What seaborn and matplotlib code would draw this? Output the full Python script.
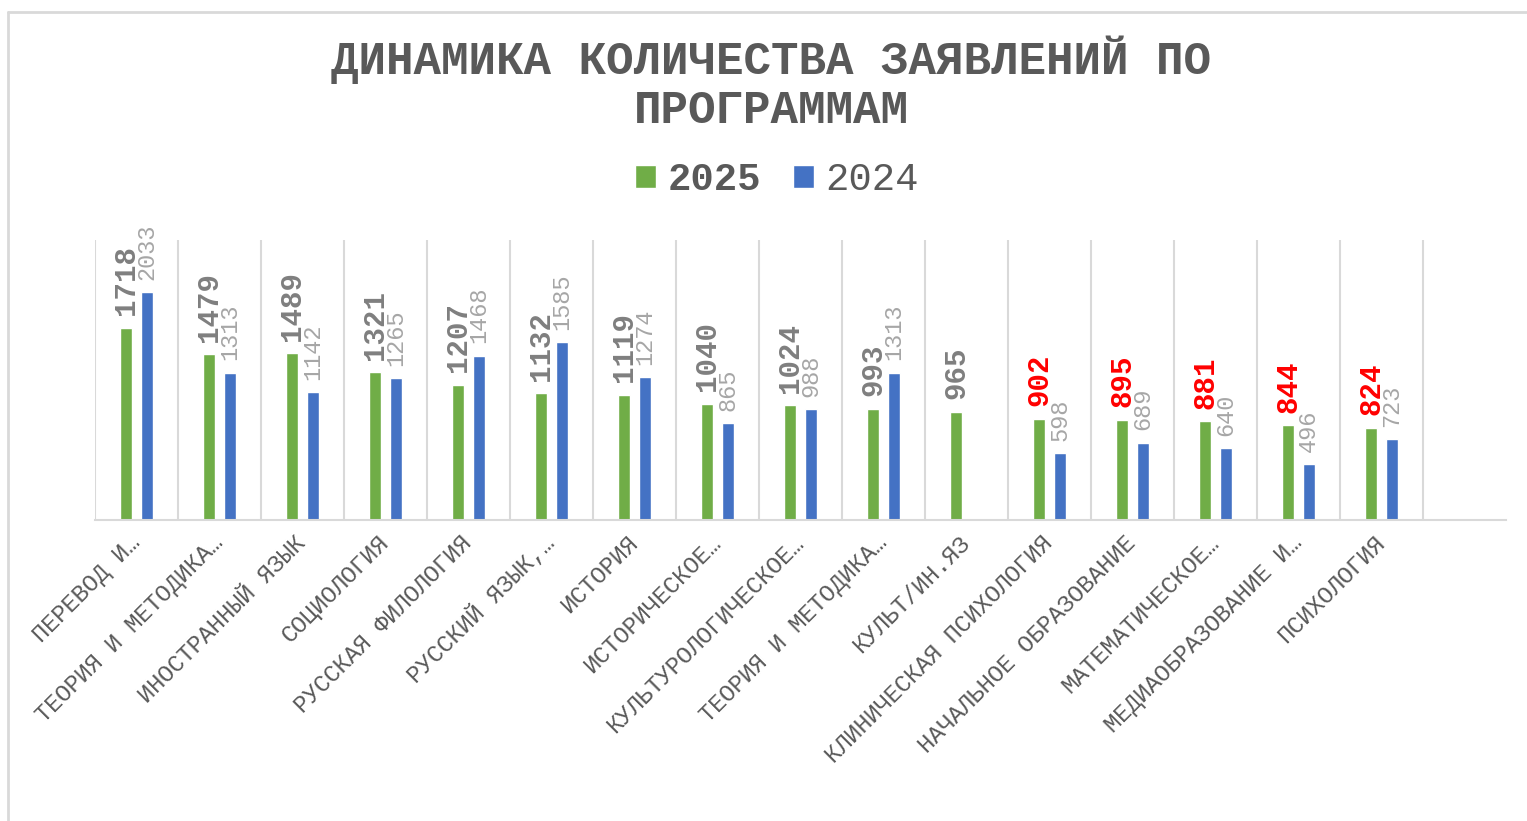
import numpy as np
import pandas as pd
import seaborn as sns
import matplotlib.pyplot as plt
from matplotlib.lines import Line2D

programs = [
    "ПЕРЕВОД И…",
    "ТЕОРИЯ И МЕТОДИКА…",
    "ИНОСТРАННЫЙ ЯЗЫК",
    "СОЦИОЛОГИЯ",
    "РУССКАЯ ФИЛОЛОГИЯ",
    "РУССКИЙ ЯЗЫК,…",
    "ИСТОРИЯ",
    "ИСТОРИЧЕСКОЕ…",
    "КУЛЬТУРОЛОГИЧЕСКОЕ…",
    "ТЕОРИЯ И МЕТОДИКА…",
    "КУЛЬТ/ИН.ЯЗ",
    "КЛИНИЧЕСКАЯ ПСИХОЛОГИЯ",
    "НАЧАЛЬНОЕ ОБРАЗОВАНИЕ",
    "МАТЕМАТИЧЕСКОЕ…",
    "МЕДИАОБРАЗОВАНИЕ И…",
    "ПСИХОЛОГИЯ",
    "",
]
y2025 = [1718, 1479, 1489, 1321, 1207, 1132, 1119, 1040, 1024, 993, 965, 902, 895, 881, 844, 824]
y2024 = [2033, 1313, 1142, 1265, 1468, 1585, 1274, 865, 988, 1313, np.nan, 598, 689, 640, 496, 723]
red_2025 = [False] * 11 + [True] * 5

rows = []
for i, (a, b) in enumerate(zip(y2025, y2024)):
    rows.append({"pos": i, "year": "2025", "value": a})
    if not np.isnan(b):
        rows.append({"pos": i, "year": "2024", "value": b})
df = pd.DataFrame(rows)

sns.set_style("white")
plt.rcParams["font.family"] = ["Liberation Mono", "DejaVu Sans Mono"]

fig = plt.figure(figsize=(15.27, 8.21), dpi=100)
ax = fig.add_axes([95 / 1527, 1 - 520 / 821, 1411 / 1527, 280 / 821])

sns.barplot(data=df, x="pos", y="value", hue="year", order=list(range(len(programs))),
            hue_order=["2025", "2024"], palette=["#70ad47", "#4472c4"], saturation=1,
            width=0.5, gap=0.43, ax=ax)

ax.set_xlim(-0.5, len(programs) - 0.5)
ax.set_ylim(0, 2500)
ax.set_yticks([])
ax.set_xlabel("")
ax.set_ylabel("")
for s in ["top", "left", "right"]:
    ax.spines[s].set_visible(False)
ax.spines["bottom"].set_color("#d9d9d9")
ax.spines["bottom"].set_linewidth(1.5)

ax.set_xticks(np.arange(len(programs)) - 0.5, minor=True)
ax.grid(which="minor", axis="x", color="#d9d9d9", lw=1.5)
ax.tick_params(which="both", length=0)
ax.set_xticks(range(len(programs)))
ax.set_xticklabels(programs, rotation=45, ha="right", va="center",
                   rotation_mode="anchor", fontsize=17, color="#595959")
ax.tick_params(axis="x", pad=14)

t25 = ax.bar_label(ax.containers[0], rotation=90, padding=9, fontsize=21,
                   fontweight="bold", color="#7f7f7f")
for t, r in zip(t25, red_2025):
    if r:
        t.set_color("red")
ax.bar_label(ax.containers[1], rotation=90, padding=9, fontsize=17, color="#a6a6a6")

sns.move_legend(ax, "center", bbox_to_anchor=((777 - 95) / 1411, (520 - 180) / 280),
                ncol=2, frameon=False, title=None, fontsize=28,
                handlelength=0.55, handleheight=0.55, handletextpad=0.3,
                columnspacing=0.8)
leg = ax.get_legend()
for t in leg.get_texts():
    t.set_color("#595959")
leg.get_texts()[0].set_fontweight("bold")

fig.text(771 / 1527, 1 - 36 / 821, "ДИНАМИКА КОЛИЧЕСТВА ЗАЯВЛЕНИЙ ПО\nПРОГРАММАМ",
         ha="center", va="top", fontsize=33, fontweight="bold", color="#595959",
         linespacing=1.12)

fig.add_artist(Line2D([7.5 / 1527, 7.5 / 1527], [0, 1 - 12 / 821], transform=fig.transFigure,
                      color="#d9d9d9", lw=2))
fig.add_artist(Line2D([7.5 / 1527, 1], [1 - 12 / 821, 1 - 12 / 821], transform=fig.transFigure,
                      color="#d9d9d9", lw=2))

fig.savefig("out.png", dpi=100)
